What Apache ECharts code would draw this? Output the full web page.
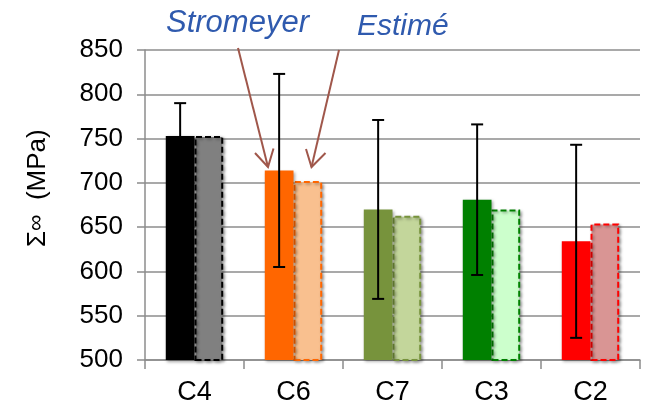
<!DOCTYPE html>
<html>
<head>
<meta charset="utf-8">
<script src="https://cdn.jsdelivr.net/npm/echarts@6/dist/echarts.min.js"></script>
<style>
html,body{margin:0;padding:0;background:#fff;}
#c{width:646px;height:407px;}
</style>
</head>
<body>
<div id="c"></div>
<script>
var categories = ['C4', 'C6', 'C7', 'C3', 'C2'];
var stromeyer = [753, 714, 670, 681, 634];
var estime = [753, 702, 663, 670, 654];
var stromeyerErr = [37, 109, 101, 85, 109];
var yTicks = [500, 550, 600, 650, 700, 750, 800, 850];

var darkColors = ['#000000', '#FF6600', '#77933C', '#008000', '#FF0000'];
var lightColors = ['#808080', '#F9C08F', '#C3D69B', '#CCFFCC', '#D99594'];

var FONT = '"Liberation Sans", Arial, sans-serif';
var BAR_FRAC = 0.29;

var chart = echarts.init(document.getElementById('c'), null, {renderer: 'canvas'});

var shadow = {shadowBlur: 3, shadowColor: 'rgba(0,0,0,0.35)', shadowOffsetX: 1.5, shadowOffsetY: 1.5};

var option = {
  animation: false,
  backgroundColor: '#ffffff',
  grid: {left: 145, right: 6, top: 50, bottom: 47, containLabel: false},
  xAxis: {
    type: 'category',
    data: categories,
    axisLine: {show: true, lineStyle: {color: '#8C8C8C', width: 1.5}},
    axisTick: {show: true, length: 9, lineStyle: {color: '#8C8C8C', width: 1.5}},
    axisLabel: {color: '#000', fontSize: 27, fontFamily: FONT, margin: 19},
    splitLine: {show: false}
  },
  yAxis: {
    type: 'value',
    min: yTicks[0],
    max: yTicks[yTicks.length - 1],
    interval: 50,
    axisLine: {show: true, lineStyle: {color: '#8C8C8C', width: 1.5}},
    axisTick: {show: true, length: 8, lineStyle: {color: '#8C8C8C', width: 1.5}},
    axisLabel: {color: '#000', fontSize: 26, fontFamily: FONT, margin: 22},
    splitLine: {show: true, lineStyle: {color: '#8C8C8C', width: 1.5}}
  },
  series: [
    {
      name: 'Stromeyer',
      type: 'bar',
      barWidth: (BAR_FRAC * 100) + '%',
      barGap: '0%',
      data: stromeyer.map(function (v, i) {
        return {value: v, itemStyle: Object.assign({color: darkColors[i]}, shadow)};
      }),
      z: 3
    },
    {
      name: 'Estimé',
      type: 'bar',
      barWidth: (BAR_FRAC * 100) + '%',
      barGap: '0%',
      data: estime.map(function (v, i) {
        return {value: v, itemStyle: Object.assign({
          color: lightColors[i],
          borderColor: darkColors[i],
          borderWidth: 2,
          borderType: [6, 3]
        }, shadow)};
      }),
      z: 2
    },
    {
      name: 'err',
      type: 'custom',
      z: 10,
      data: stromeyer.map(function (v, i) { return [i, v - stromeyerErr[i], v + stromeyerErr[i]]; }),
      renderItem: function (params, api) {
        var bandW = api.size([1, 0])[0];
        var bw = bandW * BAR_FRAC;
        var lo = api.coord([api.value(0), api.value(1)]);
        var hi = api.coord([api.value(0), api.value(2)]);
        var x = lo[0] - bw / 2;
        var cap = 6;
        var st = {stroke: '#000', lineWidth: 2};
        return {
          type: 'group',
          children: [
            {type: 'line', shape: {x1: x, y1: lo[1], x2: x, y2: hi[1]}, style: st},
            {type: 'line', shape: {x1: x - cap, y1: hi[1], x2: x + cap, y2: hi[1]}, style: st},
            {type: 'line', shape: {x1: x - cap, y1: lo[1], x2: x + cap, y2: lo[1]}, style: st}
          ]
        };
      }
    }
  ],
  graphic: [
    {type: 'text', z: 100, x: 38, y: 247, rotation: Math.PI / 2,
      style: {x: 0, y: 0, text: '{a|Σ}{b|∞}{a|  (MPa)}', align: 'left', verticalAlign: 'middle',
        rich: {
          a: {fontSize: 26, fontFamily: FONT, fill: '#000'},
          b: {fontSize: 23, fontFamily: FONT, fill: '#000', verticalAlign: 'top'}
        }}},
    {type: 'text', z: 100, style: {x: 166, y: 23, text: 'Stromeyer', fill: '#2F5AAE', fontSize: 31, fontStyle: 'italic', fontFamily: FONT, verticalAlign: 'middle', align: 'left'}},
    {type: 'text', z: 100, style: {x: 357, y: 27, text: 'Estimé', fill: '#2F5AAE', fontSize: 30, fontStyle: 'italic', fontFamily: FONT, verticalAlign: 'middle', align: 'left'}},
    {type: 'polyline', z: 100, shape: {points: [[238, 48], [268, 167]]}, style: {stroke: '#A0574B', lineWidth: 2, fill: null}},
    {type: 'polyline', z: 100, shape: {points: [[255, 153], [268, 167], [273.5, 148.5]]}, style: {stroke: '#A0574B', lineWidth: 2, fill: null}},
    {type: 'polyline', z: 100, shape: {points: [[339, 50], [311.5, 167]]}, style: {stroke: '#A0574B', lineWidth: 2, fill: null}},
    {type: 'polyline', z: 100, shape: {points: [[306, 149], [311.5, 167], [325.5, 153]]}, style: {stroke: '#A0574B', lineWidth: 2, fill: null}}
  ]
};
chart.setOption(option);
</script>
</body>
</html>
